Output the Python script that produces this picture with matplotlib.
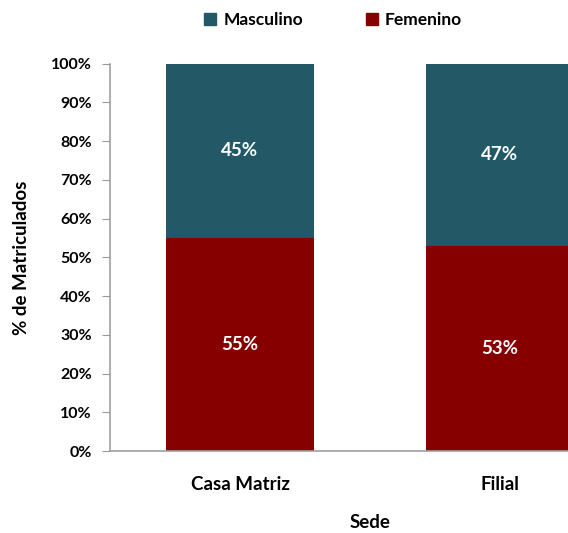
import numpy as np
import matplotlib
matplotlib.use('Agg')
import matplotlib.pyplot as plt
from matplotlib.patches import Patch
from matplotlib.ticker import PercentFormatter

sedes = ['Casa Matriz', 'Filial']
femenino = [55, 53]
masculino = [45, 47]
series_names = ['Masculino', 'Femenino']

col_masc = '#235967'
col_fem = '#870000'

plt.rcParams['font.family'] = ['Lato', 'DejaVu Sans']
plt.rcParams['font.weight'] = 'bold'

fig = plt.figure(figsize=(5.68, 5.33), dpi=100)
ax = fig.add_axes([0.1937, 0.1538, 0.9155, 0.7267])

x = np.arange(len(sedes))
w = 0.57
ax.bar(x, femenino, w, color=col_fem)
ax.bar(x, masculino, w, bottom=femenino, color=col_masc)

for i in range(len(sedes)):
    ax.text(x[i], femenino[i] / 2, '{}%'.format(femenino[i]), ha='center', va='center',
            color='white', fontsize=13.5, fontweight='bold')
    ax.text(x[i], femenino[i] + masculino[i] / 2, '{}%'.format(masculino[i]), ha='center',
            va='center', color='white', fontsize=13.5, fontweight='bold')

ax.set_xlim(-0.5, 1.5)
ax.set_ylim(0, 100)
ax.set_yticks(np.arange(0, 101, 10))
ax.yaxis.set_major_formatter(PercentFormatter(decimals=0))
ax.set_xticks(x)
ax.set_xticklabels(sedes)
ax.tick_params(axis='x', length=0, pad=18, labelsize=13.5)
ax.tick_params(axis='y', length=6, color='#9a9a9a', labelsize=11.5, pad=7)
for s in ['top', 'right']:
    ax.spines[s].set_visible(False)
for s in ['left', 'bottom']:
    ax.spines[s].set_color('#a0a0a0')
    ax.spines[s].set_linewidth(1.2)

ax.set_ylabel('% de Matriculados', fontsize=13.5, fontweight='bold')
ax.yaxis.set_label_coords(-80 / 520, 0.5)
fig.text(370 / 568, 1 - 523 / 533, 'Sede', ha='center', va='center',
         fontsize=13.5, fontweight='bold')

handles = [Patch(color=col_masc), Patch(color=col_fem)]
fig.legend(handles, series_names, loc='center', bbox_to_anchor=(333 / 568, 1 - 20 / 533),
           ncol=2, frameon=False, fontsize=12.5, handlelength=0.7, handleheight=0.7,
           handletextpad=0.4, columnspacing=3.6)

fig.savefig('out.png', dpi=100)
